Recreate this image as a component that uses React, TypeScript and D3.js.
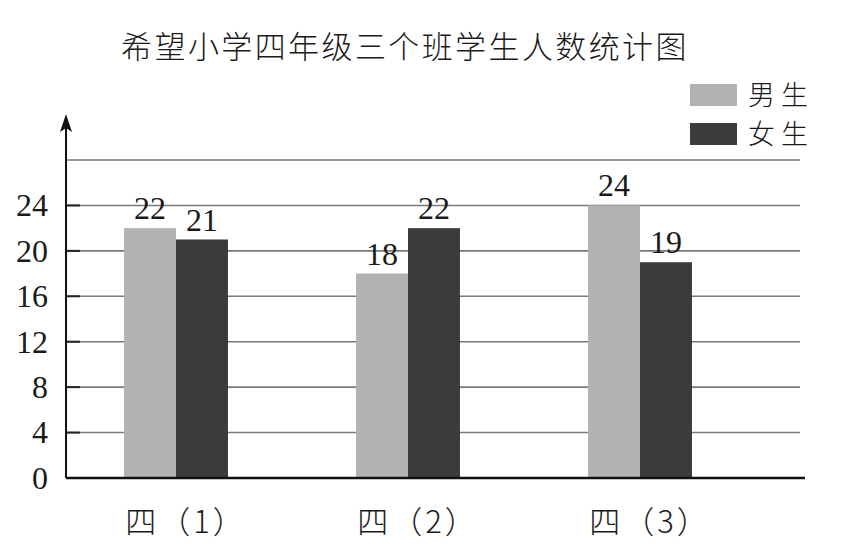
import React, { useEffect, useRef } from 'react';
import * as d3 from 'd3';

const classes = ['四（1）', '四（2）', '四（3）'];
const seriesNames = ['男生', '女生'];
const boys = [22, 18, 24];
const girls = [21, 22, 19];
const tickValues = [0, 4, 8, 12, 16, 20, 24];
const gridValues = [4, 8, 12, 16, 20, 24, 28];

const W = 848;
const H = 552;
const serif = '"Liberation Serif", "DejaVu Serif", serif';
const cjk = '"Noto Sans CJK SC", "Noto Sans CJK JP", sans-serif';
const colors = ['#b2b2b2', '#3b3b3b'];

const App: React.FC = () => {
  const svgRef = useRef<SVGSVGElement>(null);

  useEffect(() => {
    if (!svgRef.current) return;
    const svg = d3.select(svgRef.current);
    svg.selectAll('*').remove();

    const axisX = 66;
    const y = d3.scaleLinear().domain([0, 28]).range([478, 160]);

    const x = d3.scaleBand<string>()
      .domain(classes)
      .range([60, 756])
      .paddingInner(0.552)
      .paddingOuter(0.276);

    const xs = d3.scaleBand<string>()
      .domain(seriesNames)
      .range([0, x.bandwidth()])
      .padding(0);

    // title
    svg.append('text')
      .attr('x', 405)
      .attr('y', 58)
      .attr('text-anchor', 'middle')
      .attr('font-family', cjk)
      .attr('font-size', 31)
      .attr('font-weight', 300)
      .attr('letter-spacing', 2.4)
      .attr('fill', '#1a1a1a')
      .text('希望小学四年级三个班学生人数统计图');

    // gridlines
    svg.append('g')
      .selectAll('line')
      .data(gridValues)
      .enter()
      .append('line')
      .attr('x1', axisX)
      .attr('x2', 800)
      .attr('y1', d => y(d))
      .attr('y2', d => y(d))
      .attr('stroke', '#7a7a7a')
      .attr('stroke-width', 1.6);

    // tick stubs
    svg.append('g')
      .selectAll('line')
      .data(tickValues.filter(d => d > 0))
      .enter()
      .append('line')
      .attr('x1', axisX)
      .attr('x2', axisX + 14)
      .attr('y1', d => y(d))
      .attr('y2', d => y(d))
      .attr('stroke', '#222')
      .attr('stroke-width', 2);

    // bars
    const groups = svg.append('g')
      .selectAll('g')
      .data(classes)
      .enter()
      .append('g')
      .attr('transform', d => `translate(${x(d)},0)`);

    const values = [boys, girls];
    seriesNames.forEach((name, si) => {
      groups.append('rect')
        .attr('x', xs(name) as number)
        .attr('y', (_, i) => y(values[si][i]))
        .attr('width', xs.bandwidth())
        .attr('height', (_, i) => y(0) - y(values[si][i]))
        .attr('fill', colors[si]);

      groups.append('text')
        .attr('x', (xs(name) as number) + xs.bandwidth() / 2)
        .attr('y', (_, i) => y(values[si][i]) - 9)
        .attr('text-anchor', 'middle')
        .attr('font-family', serif)
        .attr('font-size', 32)
        .attr('fill', '#1a1a1a')
        .text((_, i) => values[si][i]);
    });

    // y tick labels
    svg.append('g')
      .selectAll('text')
      .data(tickValues)
      .enter()
      .append('text')
      .attr('x', 48)
      .attr('y', d => y(d))
      .attr('dy', '0.34em')
      .attr('text-anchor', 'end')
      .attr('font-family', serif)
      .attr('font-size', 32)
      .attr('fill', '#1a1a1a')
      .text(d => d);

    // x axis
    svg.append('line')
      .attr('x1', axisX)
      .attr('x2', 805)
      .attr('y1', y(0))
      .attr('y2', y(0))
      .attr('stroke', '#111')
      .attr('stroke-width', 2.5);

    // y axis with arrow
    svg.append('line')
      .attr('x1', axisX)
      .attr('x2', axisX)
      .attr('y1', y(0))
      .attr('y2', 124)
      .attr('stroke', '#111')
      .attr('stroke-width', 2);

    svg.append('path')
      .attr('d', `M${axisX},114 L${axisX - 6},132 L${axisX},128 L${axisX + 6},132 Z`)
      .attr('fill', '#111');

    // category labels
    svg.append('g')
      .selectAll('text')
      .data(classes)
      .enter()
      .append('text')
      .attr('x', d => (x(d) as number) + x.bandwidth() / 2 + 10)
      .attr('y', 533)
      .attr('text-anchor', 'middle')
      .attr('font-family', cjk)
      .attr('font-size', 31)
      .attr('font-weight', 300)
      .attr('letter-spacing', 3)
      .attr('fill', '#1a1a1a')
      .text(d => d);

    // legend
    const legend = svg.append('g')
      .selectAll('g')
      .data(seriesNames)
      .enter()
      .append('g')
      .attr('transform', (_, i) => `translate(690,${84 + i * 39})`);

    legend.append('rect')
      .attr('width', 47)
      .attr('height', 22)
      .attr('fill', (_, i) => colors[i]);

    legend.append('text')
      .attr('x', 58)
      .attr('y', 11)
      .attr('dy', '0.36em')
      .attr('font-family', cjk)
      .attr('font-size', 27)
      .attr('font-weight', 300)
      .attr('letter-spacing', 6)
      .attr('fill', '#1a1a1a')
      .text(d => d);
  }, []);

  return (
    <svg
      ref={svgRef}
      width={W}
      height={H}
      style={{ position: 'fixed', left: 0, top: 0, background: '#fff' }}
    />
  );
};

export default App;
